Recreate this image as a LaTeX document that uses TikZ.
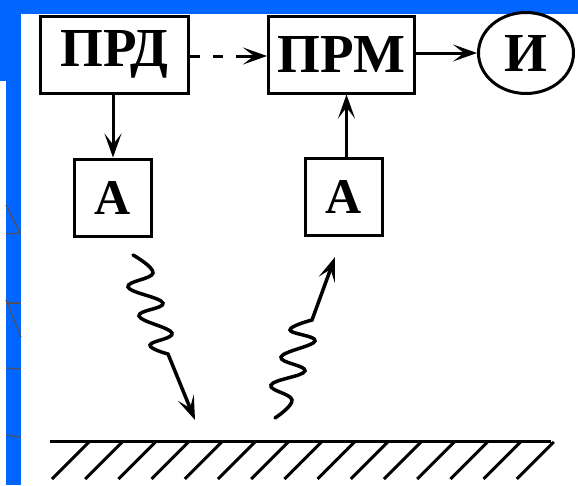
\documentclass[tikz,border=0pt]{standalone}
\usepackage{fontspec}
\setmainfont{Liberation Serif}
\usetikzlibrary{arrows.meta,shapes.geometric}
\definecolor{slideblue}{RGB}{0,102,255}
\definecolor{decogray}{RGB}{80,80,95}
\tikzset{
  box/.style={draw, line width=3pt, inner sep=0pt, font=\fontsize{55}{60}\selectfont\bfseries},
  abox/.style={draw, line width=3pt, inner sep=0pt, minimum width=77pt, minimum height=77pt, font=\fontsize{50}{55}\selectfont\bfseries},
  tipstyle/.style={-{Stealth[length=24pt,width=17pt,inset=11pt]}},
  conn/.style={line width=3pt, tipstyle},
  wave/.style={line width=3.5pt, line cap=round, tipstyle},
  deco/.style={decogray, line width=1.2pt},
  hatch/.style={line width=3pt}
}
\begin{document}
\begin{tikzpicture}[x=1pt,y=-1pt]
\useasboundingbox (0,0) rectangle (578,485);
% slide background
\fill[white] (0,0) rectangle (578,485);
\fill[slideblue] (0,0) rectangle (578,14);
\fill[slideblue] (0,0) rectangle (21,81);
\fill[slideblue] (6,81) rectangle (21,485);
\draw[deco] (6,205) -- (20,233);
\draw[deco] (6,234) -- (21,233);
\draw[deco] (6,303) -- (21,303);
\draw[deco] (6,300) -- (21,337);
\draw[deco] (6,368) -- (21,369);
\draw[deco] (6,435) -- (21,437);
% blocks
\node[box, minimum width=148pt, minimum height=77pt] (prd) at (114.5,54.5) {ПРД};
\node[box, minimum width=146pt, minimum height=77pt] (prm) at (341.5,54.5) {ПРМ};
\node[draw, ellipse, line width=3pt, inner sep=0pt, minimum width=95pt, minimum height=81pt,
      font=\fontsize{55}{60}\selectfont\bfseries] (ind) at (526,53) {И};
\node[abox] (a1) at (113,197.5) {А};
\node[abox] (a2) at (343.5,197) {А};
% connectors
\draw[line width=3pt, dash pattern=on 10pt off 13pt] ([yshift=-1.5pt]prd.east) -- ([xshift=-22pt,yshift=-1.5pt]prm.west);
\draw[conn] ([xshift=-24pt,yshift=-1.5pt]prm.west) -- ([yshift=-1.5pt]prm.west);
\draw[conn] (prm.east |- ind.west) -- (ind.west);
\draw[conn] (a1.north |- prd.south) -- (a1.north);
\draw[conn] ([xshift=3pt]a2.north) -- ([xshift=3pt]a2.north |- prm.south);
% waves
\coordinate (w1s) at (133,255);
\coordinate (w1e) at (195,420);
\draw[wave] plot[smooth, tension=0.7] coordinates {(w1s) (153,273) (128,287) (163,303) (139,316) (172,333) (150,345) (168,354)} -- (w1e);
\coordinate (w2s) at (275,418);
\coordinate (w2e) at (335,257);
\draw[wave] plot[smooth, tension=0.7] coordinates {(w2s) (292,400) (271,385) (305,371) (281,357) (315,341) (290,330) (312,320)} -- (w2e);
% ground
\draw[line width=3pt] (50,441) -- (551,441);
\foreach \i in {0,...,14}{
  \draw[hatch] ({52+\i*33.2},479) -- ({89+\i*33.2},442);
}
\end{tikzpicture}
\end{document}
